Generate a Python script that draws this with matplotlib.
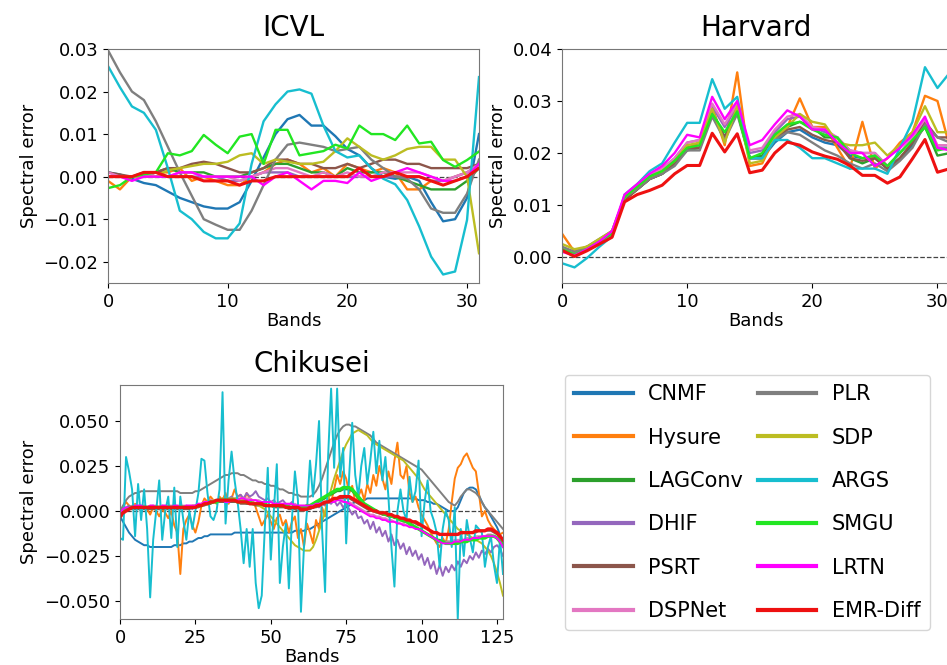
import numpy as np
import matplotlib
matplotlib.use("Agg")
import matplotlib.pyplot as plt
from matplotlib.ticker import MultipleLocator

methods = ["CNMF", "Hysure", "LAGConv", "DHIF", "PSRT", "DSPNet",
           "PLR", "SDP", "ARGS", "SMGU", "LRTN", "EMR-Diff"]
colors = ["#1f77b4", "#ff7f0e", "#2ca02c", "#9467bd", "#8c564b", "#e377c2",
          "#7f7f7f", "#bcbd22", "#17becf", "#22e622", "#ff00ff", "#ee1111"]

# ---------------- ICVL (values x 1e-3) ----------------
icvl_cnmf = [1, 0.5, -0.5, -1.5, -2, -3.5, -5, -6, -7, -7.5, -7.5, -6, -1, 4.5, 10, 13.5,
             14.5, 12, 12, 9.5, 6.5, 5, 2, 0, -0.5, 0, -1, -6, -10.5, -10, -5, 10]
icvl_hysure = [-1, -3, 0, 0, 1, 1, 2, -1, 0, -1, -2, -2, 0, 1, 3, 4,
               3, 1, 2, 0, 3, 2, 1, 2, 1, -3, -3, -1, -1, 0, 1, 2]
icvl_lagconv = [0, 0, 0, 1, 1, 2, 1, 1, 1, 0, 0, 0, 1, 2, 3, 3,
                2, 1, 1, 0, 2, 1, 1, 1, 0, -1, -2, -3, -3, -3, -1, 2]
icvl_dhif = [0, 0, 0, 0, 0, 0, 0, 0, 0, 0, -1, -1, 0, 1, 1, 1,
             0, 0, 0, 0, 0, 0, 0, 0, 0, 0, 0, -1, -1, 0, 1, 3]
icvl_psrt = [1, 0.5, 0, 0, 1, 2, 2, 3, 3.5, 3, 2, 1, 1, 2, 4, 4,
             3, 3, 2, 2, 3, 2, 3, 4, 4, 3, 3, 2, 2, 2, 2, 3]
icvl_dspnet = [1, 0, 0, 0, 1, 0, 1, 1, 0, 0, 0, -1, 0, 1, 2, 2,
               1, 0, 1, 0, 1, 0, 0, 1, 1, 1, 1, 0, -1, 0, 1, 3]
icvl_plr = [29.7, 24.5, 20, 18, 13, 7, 1, -4.5, -10, -11.3, -12.5, -12.5, -8, -2, 4, 7.5,
            8, 7.5, 7, 6, 6.5, 7, 4, 2, 0, -0.5, -3, -7.5, -8.5, -8.5, -4, 4]
icvl_sdp = [0, 0, 0, 0, 0, 1.5, 2, 2.5, 3, 3, 3.5, 5, 5.5, 3, 4, 3.5,
            3, 3, 3.5, 6, 9, 7, 5, 4, 5, 6.5, 7, 7, 4, 4, 0, -18]
icvl_args = [26, 21, 16.5, 15, 11, 2, -8, -10, -13, -14.5, -14.5, -11, 3, 13, 17, 20,
             20.5, 19.5, 12, 6, 4.5, 5, 2, -0.5, -1.8, -5.5, -11.7, -18.8, -23, -22.3, -10.2, 23.4]
icvl_smgu = [-2.7, -2, 0, 0.5, 1, 5.5, 5, 6, 9.8, 7.5, 5.5, 9.4, 10, 3, 11, 11,
             5, 5.5, 6, 7.5, 6.6, 12, 10, 10, 8.6, 12, 7.8, 8.2, 3.9, 2.3, 3.9, 5.9]
icvl_lrtn = [0, 0, -1, 0, 0, 0, 1, 1, 0, 0, 0, 0, 0, -2, 0, 1,
             -1, -3, -1, -1, -1.5, 1, -1, 0, 1, 2, 1, 0, -1, -1, 0, 3]
icvl_emr = [0, 0, 0, 1, 1, 0, 0, 0, -1, -1, -1, -2, -1, -1, 0, 0,
            0, 0, 0, 0, 0, 2, 0, 0, 1, 0, 0, -1, -2, -1, 0, 2]

# ---------------- Harvard (values x 1e-3) ----------------
harv_cnmf = [1.5, 0.5, 1.5, 3, 4.5, 11, 13, 15, 16, 18, 21, 21, 28, 23, 28, 19,
             19, 22, 24, 24.5, 23, 22, 21.5, 19.5, 19, 19.5, 17, 19, 21.5, 25.5, 21, 21]
harv_hysure = [4.5, 1, 2, 3, 5, 11, 13, 15, 16, 18, 21, 22, 29, 21.5, 35.5, 17.5,
               18, 23, 25, 30.5, 25, 25, 21, 17, 26, 17, 19, 22, 24, 31, 30, 21]
harv_lagconv = [1.5, 0.5, 1.5, 3, 4.5, 11, 13, 15, 16, 18, 20.5, 21, 28, 23, 28.5, 19,
                19.5, 23, 25, 26, 25, 23, 23, 19, 18, 19, 17, 19, 22, 25, 19.5, 20]
harv_dhif = [1.5, 0.5, 1.5, 3, 4.5, 11.5, 13.5, 15.5, 17, 19, 22, 22.5, 29, 25, 29, 20,
             20.5, 24, 26.5, 27, 25, 24, 23, 20.5, 20, 20, 17.5, 20, 23, 26, 21, 21]
harv_psrt = [1.5, 0.5, 1.5, 3, 4.5, 11, 13, 15, 16, 18, 21, 21, 28, 23, 28.5, 19,
             19, 22.5, 24.5, 25, 23.5, 22.5, 22, 19, 18.5, 19, 17, 19, 22, 26, 23, 23]
harv_dspnet = [1.5, 0.5, 1.5, 3, 4.5, 11.5, 13.5, 15.5, 17, 19, 22, 22.5, 29.5, 25.5, 29.5, 20.5,
               21, 24.5, 27, 27.5, 25, 24.5, 23, 20.5, 20, 20, 17.5, 20, 23, 26.5, 21.5, 21.5]
harv_plr = [2, 1, 2, 3.5, 5, 11.5, 13, 15, 16, 17.5, 20.5, 20.5, 27, 22.5, 27.5, 19,
            19, 22.5, 24, 23.5, 22, 20.5, 19.5, 18, 17, 18, 16.5, 18.5, 21, 25.5, 23, 22]
harv_sdp = [2.5, 1.5, 2, 3.5, 5, 11.5, 13.5, 15.5, 16.5, 18.5, 21.5, 22, 28.5, 22, 29, 18,
            18.5, 23, 25, 27.5, 26, 25.5, 22, 21.5, 21.5, 22, 19.5, 21.5, 24, 29, 24, 24]
harv_args = [-1.2, -2, -0.2, 2, 4, 12, 14, 16.5, 18, 22, 25.8, 25.8, 34.2, 28.5, 30.8, 19,
             19, 22.5, 22.5, 21, 19, 19, 18, 17, 17, 17, 16, 21, 26, 36.5, 32.5, 35.5]
harv_smgu = [1.5, 0.5, 1.5, 3, 4.5, 11.5, 13.5, 15.5, 16.5, 18.5, 21, 21.5, 27.5, 24, 28, 19,
             20, 23.5, 25.5, 26, 24.5, 23.5, 23, 20, 19, 19.5, 17.5, 20, 22.5, 25, 20.5, 21]
harv_lrtn = [1, 0.3, 1.5, 3, 5, 12, 14, 16, 17.5, 20, 23.5, 23, 30.8, 26.5, 30, 21.5,
             22.5, 25.5, 28.2, 27, 24.5, 24.5, 22, 20, 20, 17.5, 19, 21, 23.5, 27, 21, 20.5]
harv_emr = [1.3, 0.1, 1.2, 2.5, 3.8, 10.6, 12, 12.8, 13.8, 16, 17.6, 17.6, 23.8, 20.2, 23.7, 16.2,
            16.7, 20, 22.1, 21.5, 20.2, 19.4, 18.8, 17.6, 15.7, 15.7, 14.2, 15.4, 18.9, 22.6, 16.3, 17]

# ---------------- Chikusei (values x 1e-3) ----------------
chik_cnmf = [-3, -6, -9, -12, -14, -16, -17, -18, -19, -19, -20, -20, -20, -20, -20, -20,
             -20, -20, -19, -19, -19, -18, -18, -17, -17, -16, -15, -15, -14, -14, -13, -13,
             -13, -13, -13, -13, -13, -13, -12, -12, -12, -12, -12, -12, -12, -12, -12, -12,
             -12, -12, -12, -12, -12, -12, -12, -12, -12, -12, -11, -11, -11, -11, -10, -10,
             -9, -8, -7, -6, -5, -4, -3, -2, -1, 0, 1, 2, 3, 4, 5, 6,
             6, 6, 7, 7, 7, 7, 7, 7, 7, 7, 7, 7, 7, 7, 7, 7,
             7, 7, 7, 6, 6, 6, 5, 5, 4, 4, 3, 2, 1, 0, 0, 0,
             2, 6, 10, 12, 13, 13, 12, 9, 5, 2, 0, -3, -6, -9, -13, -17]
chik_hysure = [-2, 2, 5, 3, 1, 4, 2, 0, 3, 1, -2, 2, 0, -3, 1, -1,
               -4, 0, -8, -12, -35, -10, -5, -2, -8, -12, -6, 3, 7, 5, 8, 6,
               4, 8, 6, 10, 4, 7, 12, 8, 9, 5, 10, 7, 6, 2, -3, -8,
               -5, -2, -6, -10, -4, -2, -8, -5, -12, -6, -3, -15, -10, -20, -7, -12,
               -18, -5, -10, 2, -3, 8, 5, 12, 20, 15, 22, 18, 10, 14, 5, 8,
               12, 6, 15, 10, 20, 14, 25, 18, 12, 22, 15, 28, 38, 20, 18, 25,
               10, 5, 8, 2, -2, -5, -8, -12, -15, -18, -20, -15, -18, -10, 5, 18,
               24, 26, 30, 32, 28, 24, 22, 10, -3, 0, -5, -8, -10, -12, -13, -12]
chik_lagconv = [-2, 0, 1, 1, 2, 2, 2, 2, 2, 2, 2, 2, 2, 2, 2, 2,
                2, 2, 2, 2, 2, 2, 2, 2, 2, 3, 3, 3, 4, 4, 4, 5,
                5, 5, 5, 5, 5, 5, 5, 5, 5, 5, 4, 4, 4, 4, 4, 4,
                3, 3, 3, 3, 3, 3, 3, 2, 2, 2, 2, 2, 2, 2, 2, 3,
                3, 4, 5, 6, 7, 8, 9, 10, 11, 11, 12, 12, 12, 11, 9, 7,
                5, 4, 3, 2, 1, 0, -1, -2, -2, -3, -3, -4, -4, -5, -6, -6,
                -7, -8, -9, -10, -11, -12, -13, -14, -15, -16, -16, -17, -17, -17, -17, -17,
                -17, -17, -16, -16, -16, -16, -15, -15, -15, -14, -14, -14, -14, -15, -17, -20]
chik_dhif = [-3, 0, 2, 3, 2, 1, 2, 3, 2, 1, 2, 3, 1, 2, 3, 2,
             2, 1, 3, 2, 1, 2, 3, 2, 1, 3, 4, 3, 5, 4, 6, 5,
             6, 5, 7, 6, 7, 8, 6, 8, 9, 7, 10, 8, 9, 11, 8, 7,
             6, 7, 5, 6, 4, 5, 6, 4, 3, 5, 2, 3, 1, 2, 3, 1,
             2, 3, 2, 4, 3, 5, 4, 6, 3, 5, 2, 4, 1, -2, 0, -4,
             -3, -7, -5, -10, -6, -12, -9, -14, -11, -17, -13, -19, -16, -21, -18, -24,
             -20, -25, -22, -27, -24, -30, -26, -32, -28, -35, -30, -36, -31, -34, -30, -33,
             -28, -31, -27, -29, -25, -27, -23, -26, -22, -24, -21, -23, -20, -19, -21, -25]
chik_psrt = [-4, -2, 0, 1, 1, 1, 1, 1, 1, 1, 1, 1, 1, 1, 1, 1,
             1, 1, 1, 1, 1, 1, 1, 1, 2, 2, 2, 3, 3, 4, 4, 5,
             5, 5, 5, 5, 5, 5, 5, 5, 4, 4, 4, 4, 4, 3, 3, 3,
             3, 3, 3, 2, 2, 2, 2, 2, 1, 1, 1, 0, 0, 0, 1, 1,
             2, 2, 3, 4, 4, 5, 6, 6, 7, 7, 7, 7, 7, 6, 5, 4,
             3, 2, 1, 0, 0, -1, -1, -2, -2, -3, -3, -3, -4, -4, -5, -5,
             -6, -6, -7, -8, -8, -9, -10, -11, -12, -12, -13, -13, -13, -13, -13, -13,
             -13, -13, -12, -12, -12, -12, -12, -11, -11, -11, -11, -11, -12, -13, -15, -17]
chik_dspnet = [-1, 1, 2, 2, 3, 3, 3, 3, 3, 2, 3, 3, 3, 2, 3, 3,
               3, 3, 3, 3, 3, 3, 3, 3, 3, 3, 4, 4, 5, 5, 6, 6,
               6, 6, 6, 6, 6, 6, 7, 7, 7, 7, 7, 7, 6, 6, 6, 5,
               5, 5, 5, 5, 4, 4, 4, 4, 4, 4, 4, 3, 3, 3, 3, 3,
               3, 4, 4, 5, 5, 5, 6, 6, 6, 6, 6, 5, 5, 4, 3, 2,
               1, 0, -1, -2, -2, -3, -3, -4, -4, -5, -5, -6, -6, -7, -7, -8,
               -8, -9, -9, -10, -11, -12, -13, -14, -15, -16, -17, -17, -17, -17, -17, -16,
               -16, -16, -16, -15, -15, -15, -14, -14, -14, -14, -13, -13, -14, -15, -17, -19]
chik_plr = [0, 3, 6, 8, 9, 10, 10, 11, 11, 11, 11, 11, 11, 11, 11, 11,
            11, 11, 11, 11, 10, 10, 10, 10, 10, 11, 11, 12, 13, 14, 15, 16,
            17, 18, 19, 20, 20, 21, 21, 21, 20, 20, 19, 18, 17, 17, 16, 16,
            15, 15, 14, 14, 13, 12, 12, 11, 10, 10, 9, 9, 8, 8, 8, 8,
            9, 11, 14, 18, 23, 28, 33, 38, 42, 45, 47, 48, 48, 47, 47, 46,
            45, 44, 43, 42, 40, 38, 37, 36, 35, 34, 33, 32, 31, 30, 29, 28,
            27, 26, 25, 24, 23, 21, 19, 17, 15, 13, 11, 9, 7, 5, 4, 3,
            5, 8, 10, 12, 12, 11, 10, 8, 5, 2, 0, -2, -4, -6, -8, -10]
chik_sdp = [-2, 0, 1, 2, 2, 2, 2, 2, 2, 2, 2, 2, 2, 2, 2, 2,
            2, 2, 2, 2, 2, 2, 2, 2, 3, 3, 3, 4, 4, 5, 5, 6,
            6, 6, 7, 7, 7, 7, 7, 7, 6, 6, 6, 5, 5, 4, 3, 2,
            1, -1, -3, -5, -7, -9, -11, -13, -15, -17, -19, -20, -21, -22, -22, -22,
            -20, -16, -11, -6, 0, 6, 12, 18, 23, 28, 33, 37, 40, 43, 44, 45,
            44, 43, 42, 40, 38, 37, 36, 35, 34, 33, 32, 31, 30, 29, 28, 26,
            24, 22, 20, 18, 15, 12, 10, 8, 6, 4, 2, 0, -2, -4, -6, -8,
            -10, -11, -12, -13, -14, -15, -16, -17, -18, -20, -22, -25, -29, -34, -40, -47]
chik_args = [-15, -16, 30, 22, 12, -14, 15, -5, 12, -10, -48, -16, 0, 17, -16, 0,
             8, -15, 13, -20, 8, -5, -16, 0, -10, 0, 10, 29, 28, 10, -3, -5,
             0, 12, 66, -7, 17, 33, 17, 5, -10, -29, -10, -31, -10, -40, -54, -47,
             -10, 24, -27, 0, 26, -40, -20, -7, -43, -5, 22, 6, -56, -20, 0, 28,
             8, 26, 50, -10, -45, 30, 68, 24, 68, 19, 35, -18, 20, 49, 20, 8,
             25, 35, 15, 28, 44, 21, 39, 17, 30, 8, -20, -42, 0, 12, 0, -5,
             19, 5, 11, 28, -14, 5, 17, 0, -5, -12, -31, -10, 0, -5, -20, 2,
             -60, -10, -25, -5, -15, -23, -8, -10, -12, -31, -20, -14, -30, -40, -15, -35]
chik_smgu = [-2, 0, 1, 2, 2, 2, 2, 2, 2, 2, 2, 2, 2, 2, 2, 2,
             2, 2, 2, 2, 2, 2, 2, 2, 2, 2, 3, 3, 4, 4, 5, 5,
             5, 6, 6, 6, 6, 6, 6, 5, 5, 5, 5, 5, 4, 4, 4, 4,
             4, 3, 3, 3, 3, 3, 3, 3, 2, 2, 2, 2, 2, 2, 3, 3,
             4, 5, 6, 7, 8, 9, 10, 11, 12, 12, 13, 13, 13, 12, 10, 8,
             6, 4, 3, 2, 1, 0, -1, -1, -2, -2, -3, -3, -4, -5, -5, -6,
             -7, -8, -9, -10, -11, -12, -13, -14, -15, -16, -17, -17, -18, -18, -18, -18,
             -18, -17, -17, -17, -16, -16, -16, -15, -15, -15, -14, -14, -14, -15, -17, -19]
chik_lrtn = [-1, 1, 2, 2, 2, 3, 3, 3, 2, 2, 3, 3, 2, 2, 3, 3,
             2, 2, 3, 3, 2, 2, 3, 3, 3, 3, 4, 4, 5, 5, 5, 5,
             6, 6, 6, 5, 5, 6, 6, 6, 7, 7, 6, 6, 6, 6, 5, 5,
             5, 5, 5, 4, 4, 4, 4, 4, 4, 4, 3, 3, 3, 3, 3, 3,
             3, 4, 4, 4, 5, 5, 5, 5, 6, 6, 5, 5, 4, 3, 2, 1,
             0, -1, -2, -3, -3, -4, -4, -5, -5, -6, -6, -6, -7, -7, -8, -8,
             -9, -9, -10, -10, -11, -12, -13, -14, -15, -16, -17, -18, -18, -18, -18, -17,
             -17, -17, -16, -16, -16, -15, -15, -15, -14, -14, -14, -14, -14, -15, -17, -20]
chik_emr = [-3, -1, 0, 1, 2, 2, 2, 2, 2, 2, 2, 2, 2, 2, 2, 2,
            2, 2, 2, 2, 2, 2, 2, 2, 2, 2, 3, 3, 4, 4, 5, 5,
            6, 6, 6, 6, 6, 6, 6, 5, 5, 5, 5, 4, 4, 4, 4, 4,
            3, 3, 3, 3, 3, 3, 3, 2, 2, 2, 2, 2, 1, 1, 1, 2,
            2, 3, 3, 4, 5, 5, 6, 7, 7, 8, 8, 8, 8, 7, 6, 5,
            4, 3, 2, 1, 0, 0, -1, -1, -1, -2, -2, -3, -3, -4, -4, -5,
            -5, -6, -6, -7, -8, -9, -10, -11, -12, -12, -13, -13, -13, -13, -13, -13,
            -13, -12, -12, -12, -12, -12, -11, -11, -11, -11, -10, -10, -11, -12, -14, -16]

icvl = [icvl_cnmf, icvl_hysure, icvl_lagconv, icvl_dhif, icvl_psrt, icvl_dspnet,
        icvl_plr, icvl_sdp, icvl_args, icvl_smgu, icvl_lrtn, icvl_emr]
harvard = [harv_cnmf, harv_hysure, harv_lagconv, harv_dhif, harv_psrt, harv_dspnet,
           harv_plr, harv_sdp, harv_args, harv_smgu, harv_lrtn, harv_emr]
chikusei = [chik_cnmf, chik_hysure, chik_lagconv, chik_dhif, chik_psrt, chik_dspnet,
            chik_plr, chik_sdp, chik_args, chik_smgu, chik_lrtn, chik_emr]

fig = plt.figure(figsize=(9.47, 6.65), dpi=100)
W, H = 947.0, 665.0


def px_axes(x0, y0, x1, y1):
    return fig.add_axes([x0 / W, 1 - y1 / H, (x1 - x0) / W, (y1 - y0) / H])


panels = [
    ("ICVL", icvl, px_axes(108, 49, 479, 283), (0, 31), (-0.025, 0.03), 10, 1.7, 2.2),
    ("Harvard", harvard, px_axes(562, 49, 950, 283), (0, 31), (-0.005, 0.04), 10, 1.7, 2.2),
    ("Chikusei", chikusei, px_axes(120, 385, 503, 619), (0, 127), (-0.06, 0.07), 25, 1.4, 2.4),
]

for title, data, ax, xl, yl, xstep, lw, lw_last in panels:
    for name, col, vals in zip(methods, colors, data):
        v = np.asarray(vals, dtype=float) / 1000.0
        x = np.arange(len(v))
        w = lw
        if name == "EMR-Diff" or (name == "SMGU" and title == "Chikusei"):
            w = lw_last
        ax.plot(x, v, color=col, lw=w, label=name)
    ax.axhline(0, color="#444444", ls="--", lw=0.9, zorder=0.5)
    ax.set_xlim(*xl)
    ax.set_ylim(*yl)
    ax.xaxis.set_major_locator(MultipleLocator(xstep))
    ax.set_title(title, fontsize=20, pad=9)
    ax.set_xlabel("Bands", fontsize=13, labelpad=1)
    ax.set_ylabel("Spectral error", fontsize=13)
    ax.tick_params(labelsize=13)
    for s in ax.spines.values():
        s.set_color("#777777")

leg = fig.legend(handles=[plt.Line2D([], [], color=c, lw=3) for c in colors],
                 labels=methods, ncol=2, loc="upper left",
                 bbox_to_anchor=(565 / W, 1 - 375 / H), bbox_transform=fig.transFigure,
                 borderaxespad=0, fontsize=15, handlelength=2.8, handletextpad=0.75,
                 columnspacing=0.7, labelspacing=1.12, borderpad=0.45, frameon=True)
leg.get_frame().set_edgecolor("#cccccc")

fig.savefig("out.png", dpi=100)
